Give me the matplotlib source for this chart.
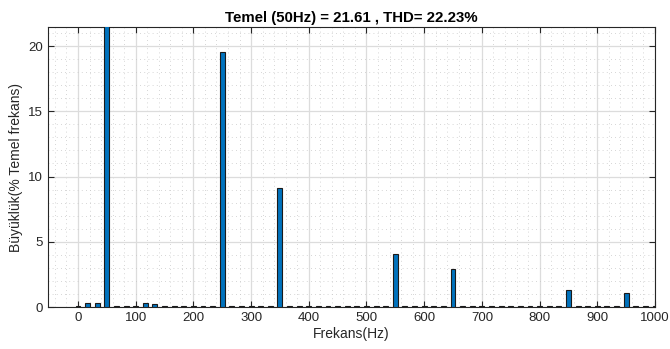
import matplotlib.pyplot as plt
import numpy as np
from matplotlib.ticker import MultipleLocator

plt.rcParams['font.family'] = ['Liberation Sans', 'DejaVu Sans']

# harmonic index k -> frequency k*50/3 Hz
k = np.arange(0, 61)
mag = [0.05, 0.33, 0.27, 100.0, 0.06, 0.06, 0.08, 0.30, 0.20, 0.08,
       0.07, 0.06, 0.05, 0.05, 0.05, 19.55, 0.05, 0.05, 0.05, 0.05,
       0.05, 9.15, 0.05, 0.05, 0.05, 0.05, 0.05, 0.05, 0.05, 0.05,
       0.05, 0.05, 0.05, 4.1, 0.05, 0.05, 0.05, 0.05, 0.05, 2.9,
       0.05, 0.05, 0.05, 0.05, 0.05, 0.05, 0.05, 0.05, 0.05, 0.05,
       0.05, 1.27, 0.05, 0.05, 0.05, 0.05, 0.05, 1.04, 0.05, 0.05,
       0.05]
freq = k * 50 / 3
title = 'Temel (50Hz) = 21.61 , THD= 22.23%'

fig = plt.figure(figsize=(6.7, 3.49), dpi=100)
ax = fig.add_axes([0.0716, 0.1203, 0.906, 0.802])
ax.bar(freq, mag, width=8.5, color='#0072BD', edgecolor='#1a1a1a', linewidth=0.8, zorder=3)

ax.set_xlim(-52, 1000)
ax.set_ylim(0, 21.45)
ax.xaxis.set_major_locator(MultipleLocator(100))
ax.xaxis.set_minor_locator(MultipleLocator(20))
ax.yaxis.set_major_locator(MultipleLocator(5))
ax.yaxis.set_minor_locator(MultipleLocator(1))
ax.grid(which='major', color='#dcdcdc', linewidth=0.9, zorder=0)
ax.grid(which='minor', color='#c8c8c8', linestyle=(0, (1, 4)), linewidth=0.6, zorder=0)
ax.tick_params(which='both', direction='in', top=True, right=True, colors='#262626',
               labelsize=9.5)
ax.tick_params(which='major', length=4)
ax.tick_params(which='minor', length=0)
for s in ax.spines.values():
    s.set_color('#262626')
    s.set_linewidth(0.8)

ax.set_xlabel('Frekans(Hz)', fontsize=10, color='#262626', labelpad=2)
ax.set_ylabel('Büyüklük(% Temel frekans)', fontsize=10, color='#262626', labelpad=4)
ax.set_title(title, fontsize=10.8, fontweight='bold', pad=4)

fig.savefig('out.png', dpi=100)
